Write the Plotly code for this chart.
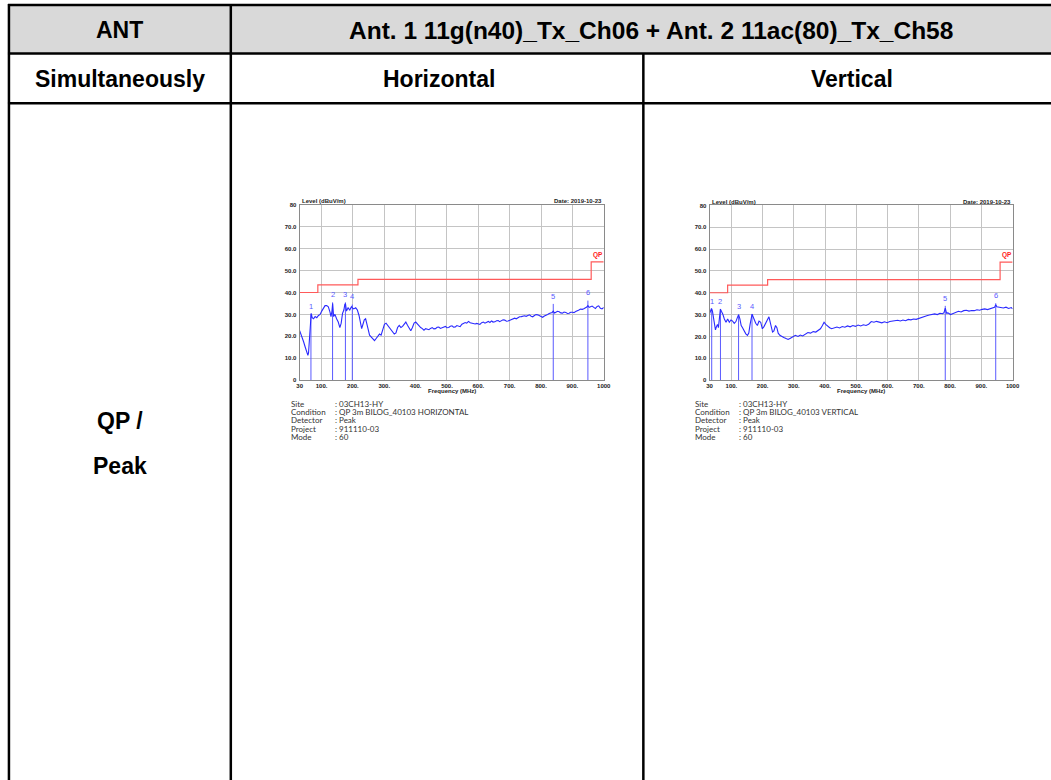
import plotly.graph_objects as go

W, H = 1051, 780

# ---------------- data ----------------
table_header = ["ANT", "Ant. 1 11g(n40)_Tx_Ch06 + Ant. 2 11ac(80)_Tx_Ch58"]
table_row2 = ["Simultaneously", "Horizontal", "Vertical"]
table_row3_label = ["QP /", "Peak"]

x_tickvals = [30, 100, 200, 300, 400, 500, 600, 700, 800, 900, 1000]
x_ticktext = ["30", "100.", "200.", "300.", "400.", "500.", "600.", "700.", "800.", "900.", "1000"]
y_tickvals = [0, 10, 20, 30, 40, 50, 60, 70, 80]
y_ticktext = ["0", "10.0", "20.0", "30.0", "40.0", "50.0", "60.0", "70.0", "80"]

limit_freq = [30, 88, 216, 960, 1000]
limit_level = [40, 43.5, 46, 54, 54]

h_freq = [30.0, 34.2, 37.4, 42.6, 47.9, 53.1, 56.3, 58.4, 60.5, 62.6, 64.7, 66.8, 70.0, 74.2, 79.4,
          84.7, 90.0, 95.2, 100.5, 105.7, 111.0, 116.3, 121.5, 126.8, 130.0, 133.1, 135.2, 138.4,
          142.6, 147.8, 153.1, 158.3, 162.5, 166.8, 171.0, 174.1, 176.2, 179.4, 184.6, 189.9, 195.1,
          198.3, 202.5, 208.8, 214.1, 219.4, 223.6, 227.8, 232.0, 236.2, 240.4, 244.6, 248.8, 253.0,
          258.3, 263.5, 268.8, 274.1, 279.3, 284.6, 289.8, 295.1, 300.4, 305.6, 310.9, 316.1, 321.4,
          326.7, 331.9, 337.2, 342.4, 347.7, 353.0, 358.2, 363.5, 368.7, 374.0, 379.3, 384.5, 389.8,
          395.0, 400.3, 405.6, 410.8, 416.1, 421.3, 426.6, 431.9, 437.0, 442.4, 447.5, 452.9, 458.0,
          463.4, 468.5, 473.9, 479.0, 484.5, 489.5, 495.0, 500.0, 505.5, 510.5, 516.0, 521.0, 526.6,
          531.5, 537.1, 542.0, 547.6, 552.5, 558.1, 563.0, 568.6, 574.0, 579.2, 584.0, 589.7, 595.0,
          600.2, 605.0, 610.7, 616.0, 621.2, 626.0, 631.8, 637.0, 642.3, 647.0, 652.8, 658.0, 663.3,
          668.0, 673.8, 679.0, 684.4, 689.5, 694.9, 700.0, 705.4, 710.5, 715.9, 721.0, 726.4, 731.5,
          737.0, 742.0, 747.5, 752.5, 758.0, 763.0, 768.5, 773.5, 779.0, 784.0, 789.6, 795.0, 800.1,
          805.0, 810.6, 815.5, 821.1, 826.0, 831.6, 835.5, 839.0, 843.0, 847.4, 852.5, 857.9, 863.0,
          868.4, 873.5, 879.0, 884.0, 889.5, 894.5, 900.0, 905.0, 910.5, 915.5, 921.0, 926.0, 931.6,
          936.5, 942.1, 946.0, 949.5, 953.5, 957.9, 963.0, 968.4, 973.5, 978.9, 984.0, 989.4, 994.5,
          1000.0]
h_level = [22.6, 20.5, 19.6, 17.5, 15.0, 12.0, 11.3, 12.5, 18.0, 24.0, 29.5, 30.5, 28.5, 28.0, 29.0,
           28.5, 29.5, 30.0, 31.5, 33.0, 34.0, 34.0, 33.5, 31.0, 29.0, 31.5, 35.0, 29.0,
           30.0, 28.0, 26.5, 24.0, 26.0, 30.5, 32.0, 34.5, 35.0, 31.5, 33.0, 32.0, 33.5,
           33.0, 32.5, 33.0, 32.0, 29.5, 27.0, 23.5, 25.5, 27.5, 28.0, 26.0, 23.0, 20.5,
           19.5, 19.0, 18.0, 19.0, 20.0, 21.0, 20.5, 23.0, 25.5, 26.0, 25.0, 24.0, 23.5,
           22.5, 21.0, 21.5, 24.0, 25.0, 24.0, 24.5, 25.5, 26.5, 25.0, 24.0, 22.5, 24.0,
           26.0, 26.5, 25.5, 25.0, 24.0, 23.5, 22.8, 23.5, 23.1, 23.0, 23.6, 24.0, 23.4,
           23.5, 24.1, 24.2, 23.6, 23.8, 24.3, 24.5, 23.9, 24.0, 24.6, 24.8, 24.2, 24.3,
           24.9, 24.6, 24.4, 25.5, 25.9, 26.3, 26.0, 26.8, 26.2, 26.0, 25.5, 25.6, 25.9,
           25.8, 25.4, 26.2, 26.5, 26.0, 26.4, 26.8, 26.3, 27.0, 26.5, 26.6, 27.1, 27.2,
           26.7, 27.0, 27.5, 27.4, 26.9, 27.0, 27.3, 27.6, 27.9, 28.3, 28.0, 28.6, 28.9,
           29.0, 29.3, 29.4, 29.1, 29.6, 29.8, 29.2, 28.9, 29.5, 29.9, 29.8, 29.4, 29.0,
           28.7, 29.3, 29.8, 30.0, 30.4, 30.5, 30.9, 31.5, 30.6, 31.0, 31.4, 31.2, 30.7,
           30.6, 31.1, 30.9, 30.4, 30.5, 31.0, 31.0, 30.8, 31.3, 31.8, 32.0, 32.4, 32.3,
           32.6, 33.0, 33.4, 34.0, 33.2, 33.5, 33.8, 33.2, 32.7, 33.6, 33.9, 32.8, 32.5,
           33.2]
h_mark_freq = [66, 135, 176, 198, 839, 949.5]
h_mark_level = [30.2, 35.5, 35.5, 34.5, 34.8, 36.3]
h_mark_label = ["1", "2", "3", "4", "5", "6"]

v_freq = [30.0, 33.2, 36.3, 39.5, 42.7, 45.8, 49.0, 52.2, 55.4, 58.5, 61.7, 64.9, 68.0, 72.3, 77.5,
          82.8, 88.1, 93.4, 98.7, 104.0, 109.2, 114.5, 118.8, 123.0, 127.2, 131.4, 135.7, 140.9,
          146.2, 151.5, 155.7, 159.9, 163.1, 166.3, 169.5, 173.7, 177.9, 183.2, 188.5, 193.8, 199.1,
          204.3, 209.6, 214.9, 220.2, 223.4, 227.6, 231.8, 236.0, 241.3, 245.6, 249.8, 255.1, 260.3,
          267.7, 275.1, 281.5, 288.9, 296.3, 304.7, 313.2, 320.6, 328.0, 336.4, 344.9, 353.3, 361.8,
          370.2, 378.7, 385.0, 391.4, 396.6, 401.9, 408.3, 414.6, 420.9, 429.4, 437.8, 446.3, 454.8,
          463.2, 471.7, 480.1, 488.6, 497.0, 505.5, 513.9, 522.4, 530.8, 539.3, 547.7, 556.2, 564.6,
          573.1, 581.5, 590.0, 598.4, 606.9, 615.4, 623.8, 632.3, 640.7, 649.2, 657.6, 666.1, 674.5,
          683.0, 691.4, 699.9, 708.3, 716.8, 725.2, 733.7, 742.2, 750.6, 759.1, 767.5, 776.0, 780.5,
          784.5, 788.5, 792.9, 801.4, 809.8, 818.2, 826.7, 835.1, 843.6, 852.0, 860.5, 869.0, 877.4,
          885.9, 894.3, 902.8, 911.2, 919.7, 928.1, 936.6, 942.0, 946.1, 949.5, 953.5, 962.0, 970.4,
          978.9, 987.3, 995.8, 1000.0]
v_level = [30.3, 31.5, 32.8, 31.5, 29.0, 25.8, 23.0, 24.5, 25.5, 24.0, 29.0, 32.5, 31.5, 30.3, 28.0,
           26.5, 28.0, 26.5, 27.5, 27.0, 26.0, 26.8, 28.5, 30.0, 28.0, 25.0, 24.0, 22.5,
           21.2, 20.5, 21.5, 25.5, 29.0, 30.2, 29.0, 27.0, 26.0, 25.0, 27.0, 26.5, 23.5,
           24.5, 26.0, 28.0, 29.0, 27.0, 24.0, 22.0, 22.5, 25.0, 24.0, 21.5, 20.5, 20.0,
           19.5, 19.0, 18.6, 19.2, 19.8, 20.5, 20.0, 20.6, 20.2, 21.0, 21.8, 21.5, 22.2,
           22.0, 22.8, 23.5, 25.0, 26.5, 25.5, 24.5, 24.0, 23.5, 23.8, 24.3, 23.9, 24.5,
           24.2, 24.8, 24.4, 25.0, 24.6, 25.2, 24.8, 25.3, 25.0, 25.6, 26.8, 26.5, 26.9,
           26.4, 26.2, 26.7, 26.3, 26.8, 27.0, 26.9, 27.4, 27.1, 27.5, 27.2, 27.8, 27.6,
           28.0, 27.8, 28.3, 28.6, 29.2, 29.5, 29.8, 30.0, 30.3, 30.0, 30.6, 30.4, 30.9,
           33.0, 30.7, 30.8, 30.0, 30.5, 31.0, 31.5, 31.2, 31.8, 32.0, 31.6, 31.9, 31.8,
           32.2, 32.0, 32.4, 32.6, 32.3, 32.8, 33.0, 33.3, 34.5, 33.6, 33.5, 33.2, 33.0,
           33.4, 32.8, 33.2, 32.6]
v_mark_freq = [37, 65, 123, 166, 784.5, 946]
v_mark_level = [32.6, 32.6, 30.0, 30.3, 34.0, 35.2]
v_mark_label = ["1", "2", "3", "4", "5", "6"]

info_labels = ["Site", "Condition", "Detector", "Project", "Mode"]
h_info_values = [": 03CH13-HY", ": QP 3m BILOG_40103 HORIZONTAL", ": Peak", ": 911110-03", ": 60"]
v_info_values = [": 03CH13-HY", ": QP 3m BILOG_40103 VERTICAL", ": Peak", ": 911110-03", ": 60"]
chart_title = "Level (dBuV/m)"
chart_date = "Date: 2019-10-23"
x_title = "Frequency (MHz)"


def px(x):
    return x / W


def py(y):
    return 1 - y / H


TRACE_BLUE = "#2a2aff"
MARK_BLUE = "#5a5aff"
LIMIT_RED = "#ff5a5a"
TABLE_FONT = dict(family="Arial, Liberation Sans, sans-serif", size=23, color="#000000", weight="bold")
HEADER_FONT = dict(family="Arial, Liberation Sans, sans-serif", size=24.5, color="#000000", weight="bold")
SMALL_BOLD = dict(family="Arial, Liberation Sans, sans-serif", size=6, color="#222222", weight="bold")
INFO_FONT = dict(family="Lato, Open Sans, sans-serif", size=8, color="#333333")

fig = go.Figure()

panels = [
    dict(xa="x", ya="y", freq=h_freq, level=h_level, mf=h_mark_freq, ml=h_mark_level, mlab=h_mark_label,
         info=h_info_values, left=299.5, right=606.5, top=203.5, bottom=380, lab_x=289, val_x=333),
    dict(xa="x2", ya="y2", freq=v_freq, level=v_level, mf=v_mark_freq, ml=v_mark_level, mlab=v_mark_label,
         info=v_info_values, left=713.3, right=1019.3, top=204, bottom=380, lab_x=697, val_x=741),
]

annotations = []
for i, p in enumerate(panels):
    fig.add_trace(go.Scatter(x=limit_freq, y=limit_level, mode="lines", line=dict(color=LIMIT_RED, width=1.2, shape="hv"),
                             xaxis=p["xa"], yaxis=p["ya"], hoverinfo="skip", showlegend=False))
    mx, my = [], []
    for f, l in zip(p["mf"], p["ml"]):
        mx += [f, f, None]
        my += [0, l, None]
    fig.add_trace(go.Scatter(x=mx, y=my, mode="lines", line=dict(color=MARK_BLUE, width=1),
                             xaxis=p["xa"], yaxis=p["ya"], hoverinfo="skip", showlegend=False))
    fig.add_trace(go.Scatter(x=p["freq"], y=p["level"], mode="lines", line=dict(color=TRACE_BLUE, width=1.1),
                             xaxis=p["xa"], yaxis=p["ya"], showlegend=False))
    for f, l, t in zip(p["mf"], p["ml"], p["mlab"]):
        annotations.append(dict(x=f, y=l + 0.6, xref=p["xa"], yref=p["ya"], text=t, showarrow=False,
                                yanchor="bottom", xanchor="center",
                                font=dict(family="Arial, Liberation Sans, sans-serif", size=7.5, color=MARK_BLUE)))
    annotations.append(dict(x=982, y=54.6, xref=p["xa"], yref=p["ya"], text="QP", showarrow=False,
                            yanchor="bottom", xanchor="center",
                            font=dict(family="Arial, Liberation Sans, sans-serif", size=6.5, color="#ff2020", weight="bold")))
    annotations.append(dict(x=px(p["left"]), y=py(p["top"] - 3.5), xref="paper", yref="paper", text=chart_title,
                            showarrow=False, xanchor="left", yanchor="middle", font=SMALL_BOLD))
    annotations.append(dict(x=px(p["right"]), y=py(p["top"] - 3.5), xref="paper", yref="paper", text=chart_date,
                            showarrow=False, xanchor="right", yanchor="middle", font=SMALL_BOLD))
    annotations.append(dict(x=px((p["left"] + p["right"]) / 2), y=py(391.5), xref="paper", yref="paper", text=x_title,
                            showarrow=False, xanchor="center", yanchor="middle", font=SMALL_BOLD))
    rows_y = [404.3, 412.5, 420.7, 428.9, 437.1]
    for lab, val, ry in zip(info_labels, p["info"], rows_y):
        annotations.append(dict(x=px(p["lab_x"]), y=py(ry), xref="paper", yref="paper", text=lab, showarrow=False,
                                xanchor="left", yanchor="middle", font=INFO_FONT))
        annotations.append(dict(x=px(p["val_x"]), y=py(ry), xref="paper", yref="paper", text=val, showarrow=False,
                                xanchor="left", yanchor="middle", font=INFO_FONT))

table_ann = [
    dict(x=px(118), y=py(27.5), text=table_header[0], font=TABLE_FONT),
    dict(x=px(654), y=py(27.5), text=table_header[1], font=HEADER_FONT),
    dict(x=px(118), y=py(76.5), text=table_row2[0], font=TABLE_FONT),
    dict(x=px(440), y=py(76.5), text=table_row2[1], font=TABLE_FONT),
    dict(x=px(857), y=py(76.5), text=table_row2[2], font=TABLE_FONT),
    dict(x=px(118), y=py(421), text=table_row3_label[0], font=TABLE_FONT),
    dict(x=px(118), y=py(467), text=table_row3_label[1], font=TABLE_FONT),
]
for a in table_ann:
    a.update(xref="paper", yref="paper", showarrow=False, xanchor="center", yanchor="middle")
annotations += table_ann

shapes = [
    dict(type="rect", x0=px(6), x1=px(1060), y0=py(2), y1=py(51), fillcolor="#d9d9d9", line=dict(width=0), layer="below"),
]
LINE = dict(color="#000000", width=2.5)
for yy in [2, 51, 101]:
    shapes.append(dict(type="line", x0=px(5), x1=px(1060), y0=py(yy), y1=py(yy), line=LINE))
shapes.append(dict(type="line", x0=px(6), x1=px(6), y0=py(1), y1=py(790), line=LINE))
shapes.append(dict(type="line", x0=px(230), x1=px(230), y0=py(1), y1=py(790), line=LINE))
shapes.append(dict(type="line", x0=px(646.5), x1=px(646.5), y0=py(51), y1=py(790), line=LINE))
for s in shapes:
    s.update(xref="paper", yref="paper")

axis_common = dict(showgrid=True, gridcolor="#c4c4c4", gridwidth=1, zeroline=False, showline=True,
                   linecolor="#8a8a8a", linewidth=1, mirror=True, ticks="",
                   tickfont=dict(family="Arial, Liberation Sans, sans-serif", size=6, color="#222222", weight="bold"))

p0, p1 = panels
fig.update_layout(
    width=W, height=H, autosize=False,
    margin=dict(l=0, r=0, t=0, b=0),
    paper_bgcolor="white", plot_bgcolor="white",
    showlegend=False,
    xaxis=dict(domain=[px(p0["left"]), px(p0["right"])], range=[30, 1000], tickvals=x_tickvals, ticktext=x_ticktext,
               anchor="y", ticklabelstandoff=0, **axis_common),
    yaxis=dict(domain=[py(p0["bottom"]), py(p0["top"])], range=[0, 80], tickvals=y_tickvals, ticktext=y_ticktext,
               anchor="x", ticklabelstandoff=1, **axis_common),
    xaxis2=dict(domain=[px(p1["left"]), px(p1["right"])], range=[30, 1000], tickvals=x_tickvals, ticktext=x_ticktext,
                anchor="y2", ticklabelstandoff=0, **axis_common),
    yaxis2=dict(domain=[py(p1["bottom"]), py(p1["top"])], range=[0, 80], tickvals=y_tickvals, ticktext=y_ticktext,
                anchor="x2", ticklabelstandoff=1, **axis_common),
    annotations=annotations,
    shapes=shapes,
)

fig.write_html("out.html", config={"displayModeBar": False},
               post_script="document.body.style.margin='0';document.body.style.overflow='hidden';")
